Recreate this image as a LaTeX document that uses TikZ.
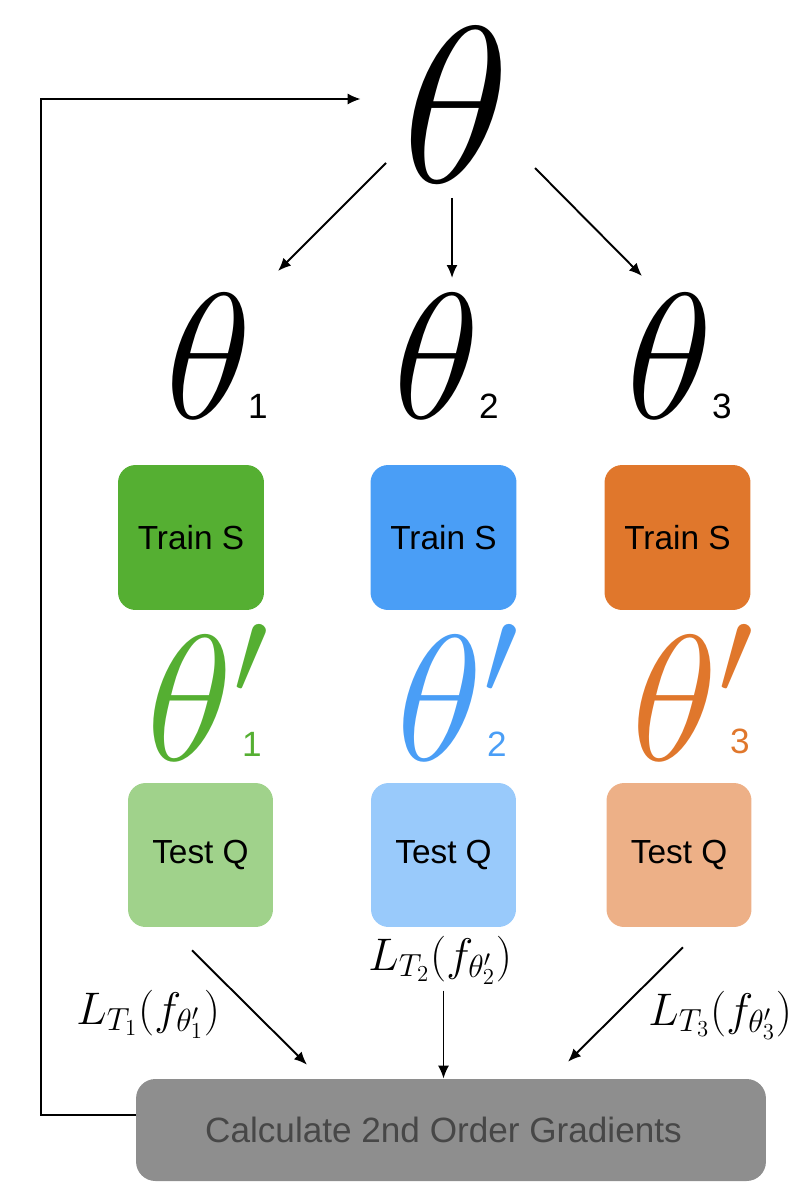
\documentclass[tikz,border=0pt]{standalone}
\usepackage{fix-cm}
\usepackage[no-math]{fontspec}
\newfontfamily\helv{Liberation Sans}
\usepackage{xcolor}
\usetikzlibrary{arrows.meta,calc,positioning}
\definecolor{taskGreen}  {HTML}{55AF32}
\definecolor{taskBlue}   {HTML}{4A9EF6}
\definecolor{taskOrange} {HTML}{E0772C}
\definecolor{queryGreen} {HTML}{A0D28B}
\definecolor{queryBlue}  {HTML}{99CAFB}
\definecolor{queryOrange}{HTML}{EDB087}
\definecolor{calcGray}   {HTML}{8E8E8E}
\definecolor{calcText}   {HTML}{474747}
\tikzset{
  arrow/.style={-{Latex[length=2.6mm,width=2.2mm]},draw=black,line width=1.1pt},
  bigtheta/.style={inner sep=0pt,font=\fontsize{127}{127}\selectfont},
  midtheta/.style={inner sep=0pt,font=\fontsize{102}{102}\selectfont},
  subdigit/.style={inner sep=0pt,font=\helv\fontsize{20}{20}\selectfont},
  trainbox/.style={rectangle,rounded corners=10pt,draw=none,minimum width=2.92cm,minimum height=2.9cm,
    align=center,font=\helv\fontsize{19}{22}\selectfont},
  testbox/.style={rectangle,rounded corners=10pt,draw=none,minimum width=2.9cm,minimum height=2.88cm,
    align=center,font=\helv\fontsize{19}{22}\selectfont},
  calcbox/.style={rectangle,rounded corners=11pt,draw=none,fill=calcGray,text=calcText,
    minimum width=12.6cm,minimum height=2.04cm,font=\helv\fontsize{20}{24}\selectfont},
  loss/.style={inner xsep=0pt,font=\fontsize{26}{30}\selectfont},
}

\begin{document}
\begin{tikzpicture}[x=0.02cm,y=-0.02cm]

\clip (0,0) rectangle (802,1182);

\node[bigtheta] (top) at (456,105) {$\theta$};

\node[midtheta] (th1) at (209,356) {$\theta$};
\node[subdigit] (s1) at (258,406) {1};
\node[midtheta] (th2) at (437,356) {$\theta$};
\node[subdigit] (s2) at (489,406) {2};
\node[midtheta] (th3) at (670,356) {$\theta$};
\node[subdigit] (s3) at (722,406) {3};

\draw[arrow] ([shift={(-70,58)}]top.center) -- ([shift={(69,-85)}]th1.center);
\draw[arrow] ([shift={(-4,93)}]top.center) -- ([shift={(15,-78)}]th2.center);
\draw[arrow] ([shift={(79,63)}]top.center) -- ([shift={(-28,-80)}]th3.center);

\node[trainbox,fill=taskGreen] (train1) at (191,537.5) {Train S};
\node[trainbox,fill=taskBlue] (train2) at (443.5,537.5) {Train S};
\node[trainbox,fill=taskOrange] (train3) at (677.5,537.5) {Train S};

\node[midtheta,text=taskGreen,anchor=base west] (tp1) at (146,760) {$\theta'$};
\node[subdigit,text=taskGreen] (ps1) at (252,744) {1};
\node[midtheta,text=taskBlue,anchor=base west] (tp2) at (396,760) {$\theta'$};
\node[subdigit,text=taskBlue] (ps2) at (497,744) {2};
\node[midtheta,text=taskOrange,anchor=base west] (tp3) at (631,760) {$\theta'$};
\node[subdigit,text=taskOrange] (ps3) at (740,741) {3};

\node[testbox,fill=queryGreen] (test1) at (200.5,855) {Test Q};
\node[testbox,fill=queryBlue] (test2) at (443.5,855) {Test Q};
\node[testbox,fill=queryOrange] (test3) at (679,855) {Test Q};

\node[calcbox] (calc) at (451,1130) {\hspace*{-0.3cm}Calculate 2nd Order Gradients};

\node[loss,anchor=base west] (loss1) at (76,1024) {$L_{T_1}(f_{\theta'_1})$};
\node[loss,anchor=base west] (loss2) at (368,970) {$L_{T_2}(f_{\theta'_2})$};
\node[loss,anchor=base west] (loss3) at (648,1025) {$L_{T_3}(f_{\theta'_3})$};

\draw[arrow] ([shift={(-8.5,23)}]test1.south) -- ([shift={(-144,-14)}]calc.north);
\draw[arrow] (test2.south |- loss2.south) -- (test2.south |- calc.north);
\draw[arrow] ([shift={(4,20)}]test3.south) -- ([shift={(117,-17)}]calc.north);

% back to the shared initialisation
\coordinate (corner) at (41,99);
\draw[arrow,shorten >=0.82cm] ([yshift=0.3cm]calc.west) -| (corner) -- (top.west |- corner);

\end{tikzpicture}
\end{document}
